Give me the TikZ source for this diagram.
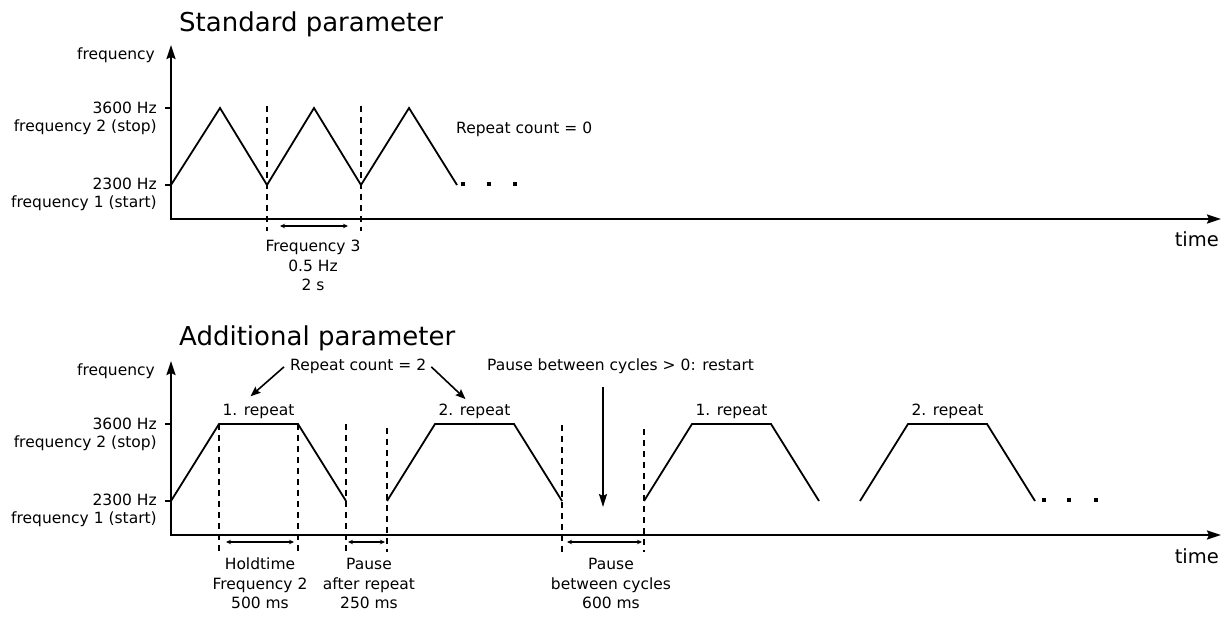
\documentclass[tikz,border=0pt]{standalone}
\usepackage{fontspec}
\setmainfont{DejaVu Sans}
\usetikzlibrary{arrows.meta}

\begin{document}
\begin{tikzpicture}[x=1pt,y=-1pt,
            axis/.style = {line width=2.2pt,
                {Stealth[length=14pt,width=9pt,inset=2pt]}-{Stealth[length=14pt,width=9pt,inset=2pt]}},
            wave/.style = {line width=1.8pt},
            dashline/.style = {line width=1.8pt,dash pattern=on 6pt off 5pt},
            dim/.style = {line width=1.1pt,
                {Stealth[length=5pt,width=4.5pt]}-{Stealth[length=5pt,width=4.5pt]}},
            callout/.style = {line width=1.6pt,-{Stealth[length=10pt,width=8pt,inset=1.5pt]}},
            lbl/.style = {inner sep=0pt,font=\fontsize{15.5}{18}\selectfont},
            desc/.style = {inner sep=0pt,align=center,anchor=north,
                font=\fontsize{15.5}{19.5}\selectfont},
            ttl/.style = {inner sep=0pt,anchor=base west,font=\fontsize{26}{30}\selectfont}]
    \useasboundingbox (0,0) rectangle (1232,617);

    % titles
    \node[ttl] (std) at (179,32) {Standard parameter};
    \node[ttl] (add) at (179,346) {Additional parameter};

    % axes and frequency levels, both panels
    \foreach \o/\p in {0/s,316/a} {
        \draw[axis] (171,45+\o) -- (171,219+\o) -- (1221,219+\o);
        \draw[line width=1.2pt] (165,108+\o) -- (171,108+\o) (165,185+\o) -- (171,185+\o);
        \node[lbl,anchor=base east] (fq\p) at (155,60+\o) {frequency};
        \node[lbl,align=right,anchor=north east] (hi\p) at (157,101.7+\o) {3600 Hz\\frequency 2 (stop)};
        \node[lbl,align=right,anchor=north east] (lo\p) at (157,177.7+\o) {2300 Hz\\frequency 1 (start)};
        \node[inner sep=0pt,anchor=base east,font=\fontsize{19.5}{22}\selectfont] (tm\p) at (1219,247+\o) {time};
    }

    % standard parameter
    \draw[wave] (171,185) -- (220,108) -- (267,185) -- (314,108) -- (361,185) -- (409,108) -- (457,185);
    \foreach \x in {463,489,515}
        \fill (\x-2.2,182) rectangle ++(4.5,4.5);
    \draw[dashline] (267,106) -- (267,231);
    \draw[dashline] (361,106) -- (361,231);
    \coordinate (v1) at (267,226);
    \coordinate (v2) at (361,226);
    \draw[dim,shorten <=13pt,shorten >=13pt] (v1) -- (v2);
    \node[desc] (f3) at (313,240) {Frequency 3\\0.5 Hz\\2 s};
    \node[lbl,anchor=base west] (rc0) at (456,134) {Repeat count = 0};

    % additional parameter
    \foreach \s/\n [count=\i] in {171/1,387/2,644/1,860/2}
        \draw[wave] (\s,501) -- ++(48,-77) -- ++(79,0)
            node[lbl,midway,anchor=base,yshift=8.5pt] (rep\i) {\n. repeat} -- ++(48,77);
    \foreach \x in {1044,1069,1096}
        \fill (\x-2,497.5) rectangle ++(4,4);
    \foreach \x/\t [count=\i] in {219/424,298/424,346/424,387/428,562/425,644/429} {
        \draw[dashline] (\x,\t) -- (\x,552);
        \coordinate (m\i) at (\x,542);
    }
    \draw[dim,shorten <=7pt,shorten >=4pt] (m1) -- (m2);
    \draw[dim,shorten <=2pt,shorten >=2pt] (m3) -- (m4);
    \draw[dim,shorten <=5pt,shorten >=2pt] (m5) -- (m6);
    \node[desc] (hold) at (260,557.7) {Holdtime\\Frequency 2\\500 ms};
    \node[desc] (pause) at (369,558) {Pause\\after repeat\\250 ms};
    \node[desc] (pbc) at (611,558) {Pause\\between cycles\\600 ms};

    \node[lbl,anchor=base west] (rc2) at (290,371) {Repeat count = 2};
    \node[lbl,anchor=base west] (restart) at (487,371) {Pause between cycles > 0: restart};
    \draw[callout] ([xshift=-6pt]rc2.west) -- ([xshift=-8pt,yshift=7pt]rep1.north);
    \draw[callout] ([xshift=5pt]rc2.east) -- ([xshift=-9pt,yshift=4pt]rep2.north);
    \coordinate (gap) at (603,507);
    \draw[callout,line width=1.8pt,-{Stealth[length=13pt,width=8pt,inset=2pt]},shorten <=13pt]
        (gap |- restart.south) -- (gap);
\end{tikzpicture}
\end{document}
